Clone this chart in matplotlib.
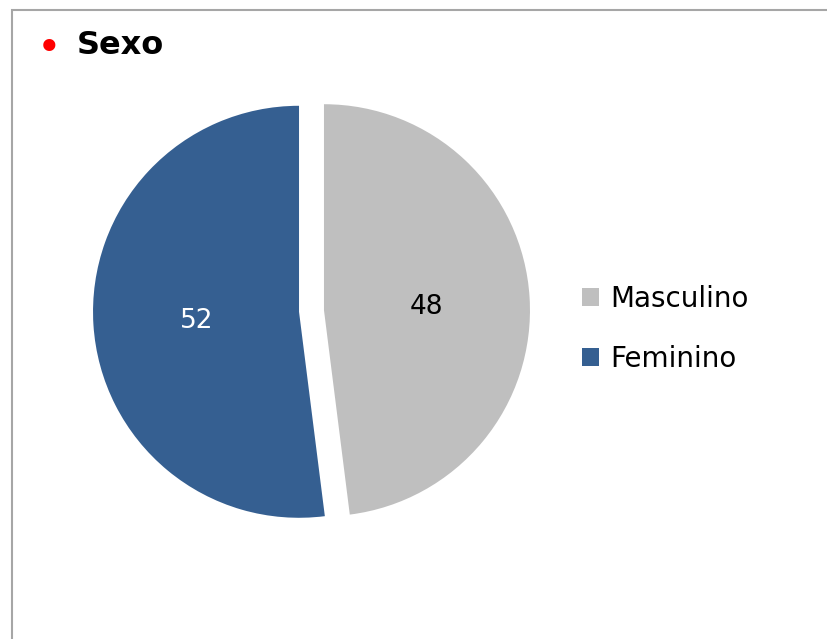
import matplotlib
matplotlib.use("Agg")
import matplotlib.pyplot as plt
from matplotlib.patches import Rectangle, Patch

categories = ["Masculino", "Feminino"]
values = [48, 52]
colors = ["#BFBFBF", "#355F91"]
label_colors = ["black", "white"]
title = "Sexo"

W, H = 827, 639
fig = plt.figure(figsize=(W / 100, H / 100), dpi=100)
ax = fig.add_axes([0, 0, 1, 1])

wedges, texts, autotexts = ax.pie(
    values,
    colors=colors,
    startangle=90,
    counterclock=False,
    center=(311.5, H - 311),
    radius=206,
    explode=[12.5, 12.5],
    autopct=lambda p: f"{p:.0f}",
    pctdistance=0.5,
    textprops={"fontsize": 19, "family": "DejaVu Sans"},
    frame=True,
)
ax.set_xlim(0, W)
ax.set_ylim(0, H)
ax.set_aspect("equal")
ax.axis("off")
for t, c in zip(autotexts, label_colors):
    t.set_color(c)
    t.set_va("top")
    x, y = t.get_position()
    t.set_position((x, y + 10))

# border
fig.patches.append(Rectangle((12 / W, -0.1), 1.2, (H - 10) / H + 0.1,
                             transform=fig.transFigure, fill=False,
                             edgecolor="#A6A6A6", linewidth=1.5))

# title
fig.text(49 / W, 1 - 49 / H, "\u2022", color="#FF0000", fontsize=30,
         ha="center", va="center")
fig.text(77 / W, 1 - 46 / H, title, fontsize=23, fontweight="bold",
         ha="left", va="center", color="black")

handles = [Patch(facecolor=c, edgecolor="none") for c in colors]
fig.legend(handles, categories, loc="center left",
           bbox_to_anchor=(557 / W, 1 - 329 / H), frameon=False,
           fontsize=20, handlelength=0.6, handleheight=0.6,
           handletextpad=0.4, labelspacing=1.15)

fig.savefig("out.png", dpi=100)
